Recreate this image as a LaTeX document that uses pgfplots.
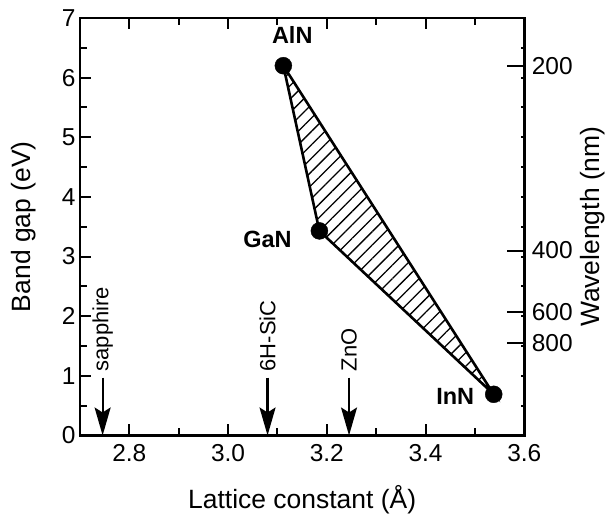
\documentclass[border=0pt]{standalone}
\usepackage{fontspec}
\setmainfont{Liberation Sans}
\usepackage{pgfplots}
\pgfplotsset{compat=1.18}
\usetikzlibrary{arrows.meta,patterns.meta}
\begin{document}
\begin{tikzpicture}
\begin{axis}[
  name=main,
  width=445pt, height=418pt, scale only axis,
  xmin=2.7, xmax=3.6, ymin=0, ymax=7,
  xtick={2.8,3.0,3.2,3.4,3.6},
  minor xtick={2.9,3.1,3.3,3.5},
  ytick={0,1,...,7},
  minor ytick={0.5,1.5,...,6.5},
  ytick pos=left,
  tick align=inside,
  major tick length=11pt, minor tick length=7pt,
  axis line style={line width=2.6pt},
  every tick/.style={black, line width=2pt},
  /pgf/number format/assume math mode=true,
  x tick label style={yshift=-5pt, /pgf/number format/fixed, /pgf/number format/precision=1, /pgf/number format/fixed zerofill},
  y tick label style={xshift=-1pt},
  tick label style={font=\fontsize{24.5}{26}\selectfont},
  label style={font=\fontsize{26.5}{28}\selectfont},
  xlabel={Lattice constant (Å)},
  ylabel={Band gap (eV)},
  xlabel style={at={(axis description cs:0.5,-0.153)}, anchor=center},
  ylabel style={at={(axis description cs:-0.126,0.5)}, anchor=center},
  clip=false,
]
% hatched alloy region
\addplot[draw=black, line width=2.6pt, line join=miter, pattern={Lines[angle=45,distance=9.5pt,line width=1.3pt]}]
  coordinates {(3.112,6.2) (3.185,3.43) (3.538,0.69)} -- cycle;
% compounds
\addplot[only marks, mark=*, mark size=8.5pt, black]
  coordinates {(3.112,6.2) (3.185,3.43) (3.538,0.69)};
\node[font=\bfseries\fontsize{23.5}{25}\selectfont] at (axis cs:3.130,6.72) {AlN};
\node[font=\bfseries\fontsize{23.5}{25}\selectfont] at (axis cs:3.080,3.28) {GaN};
\node[font=\bfseries\fontsize{23.5}{25}\selectfont] at (axis cs:3.460,0.65) {InN};
% substrates
\addplot[-{Stealth[length=28pt,width=16pt,inset=5pt]}, line width=2.2pt] coordinates {(2.746,0.97) (2.746,0)};
\addplot[-{Stealth[length=28pt,width=16pt,inset=5pt]}, line width=2.2pt] coordinates {(3.080,0.97) (3.080,0)};
\addplot[-{Stealth[length=28pt,width=16pt,inset=5pt]}, line width=2.2pt] coordinates {(3.245,0.97) (3.245,0)};
\node[rotate=90, anchor=west, inner sep=2pt, font=\fontsize{22}{24}\selectfont] at (axis cs:2.746,1.04) {sapphire};
\node[rotate=90, anchor=west, inner sep=2pt, font=\fontsize{22}{24}\selectfont] at (axis cs:3.080,1.04) {6H-SiC};
\node[rotate=90, anchor=west, inner sep=2pt, font=\fontsize{22}{24}\selectfont] at (axis cs:3.245,1.04) {ZnO};
\end{axis}
\begin{axis}[
  width=445pt, height=418pt, scale only axis,
  xmin=2.7, xmax=3.6, ymin=0, ymax=7,
  hide x axis,
  axis y line*=right,
  axis line style={line width=2.6pt},
  ytick={6.2,3.1,2.0667,1.55},
  yticklabels={200,400,600,800},
  minor ytick={0.5,1,...,6.5},
  tick align=inside,
  major tick length=17pt, minor tick length=3pt,
  every tick/.style={black, line width=2pt},
  y tick label style={xshift=4pt},
  tick label style={font=\fontsize{24.5}{26}\selectfont},
  label style={font=\fontsize{26.5}{28}\selectfont},
  ylabel={Wavelength (nm)},
  ylabel style={at={(axis description cs:1.153,0.5)}, anchor=center},
]
\end{axis}
\path ([xshift=-80pt,yshift=-88pt]main.south west) rectangle ([xshift=83pt,yshift=18pt]main.north east);
\end{tikzpicture}
\end{document}
